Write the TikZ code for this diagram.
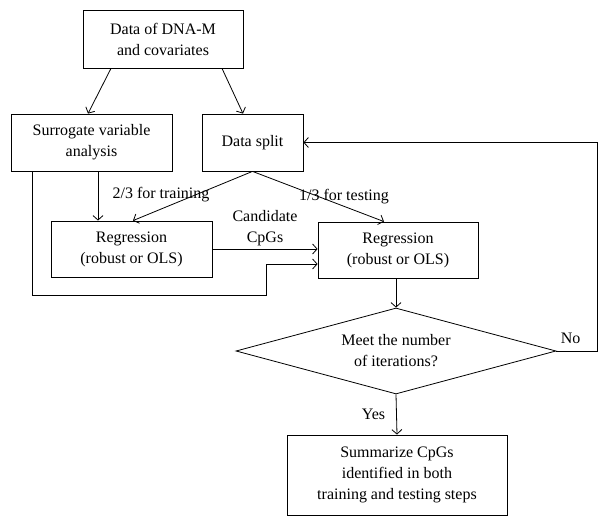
\documentclass[tikz,border=0pt]{standalone}
\usepackage{fontspec}
\setmainfont{Liberation Serif}
\usetikzlibrary{shapes.geometric,arrows.meta}
\tikzset{
  box/.style={draw, line width=0.8pt, align=center, inner sep=2pt},
  lbl/.style={align=center, inner sep=1pt},
  >={Straight Barb[length=4.5pt,width=10pt]},
}

\begin{document}
\begin{tikzpicture}[x=1pt,y=-1pt,font=\fontsize{16}{21}\selectfont,line width=0.8pt]
\useasboundingbox (0,0) rectangle (608,526);
% boxes
\node[box,minimum width=160pt,minimum height=58pt] (data) at (163,39) {Data of DNA-M\\and covariates};
\node[box,minimum width=161pt,minimum height=57pt] (sva) at (91.5,142.5) {Surrogate variable\\analysis};
\node[box,minimum width=101pt,minimum height=57pt] (split) at (252.5,142.5) {Data split};
\node[box,minimum width=161pt,minimum height=56pt] (regA) at (131.5,249) {Regression\\(robust or OLS)};
\node[box,minimum width=160pt,minimum height=56pt] (regB) at (398,250) {Regression\\(robust or OLS)};
\node[draw,diamond,aspect=3.7,inner sep=0pt,minimum width=320pt,minimum height=86pt,align=center] (iter) at (396,351) {Meet the number\\of iterations?};
\node[box,minimum width=220pt,minimum height=80pt] (summ) at (397,475) {Summarize CpGs\\identified in both\\training and testing steps};
\coordinate (loop) at (597,351);
\coordinate (bend) at (266,295);

% connectors
\draw[->] ([xshift=-52pt]data.south) -- ([xshift=-3.5pt]sva.north);
\draw[->] ([xshift=59pt]data.south) -- ([xshift=-9.5pt]split.north);
\draw[->] ([xshift=6.5pt]sva.south) -- ([xshift=6.5pt]sva.south |- regA.north);
\draw[->] (split.south) -- ([xshift=1.5pt]regA.north);
\draw[->] (split.south) -- ([xshift=-14pt]regB.north);
\draw[->] (regA.east) -- (regA.east -| regB.west)
  node[lbl,midway,above=2pt] {Candidate\\CpGs};
\draw[->] ([xshift=-59.5pt]sva.south) |- (bend) -- (bend |- 0,264) -- ([yshift=-14pt]regB.west);
\draw[->] (regB.south -| iter.north) -- (iter.north);
\draw[->] (iter.east) -- node[lbl,above=6pt,xshift=-6pt] {No} (loop) |- (split.east);
\draw[->] (iter.south) -- node[lbl,left=10pt] {Yes} (summ.north);

% split labels
\node[lbl] (train) at (161,195) {2/3 for training};
\node[lbl] (test) at (344,197) {1/3 for testing};
\end{tikzpicture}
\end{document}
